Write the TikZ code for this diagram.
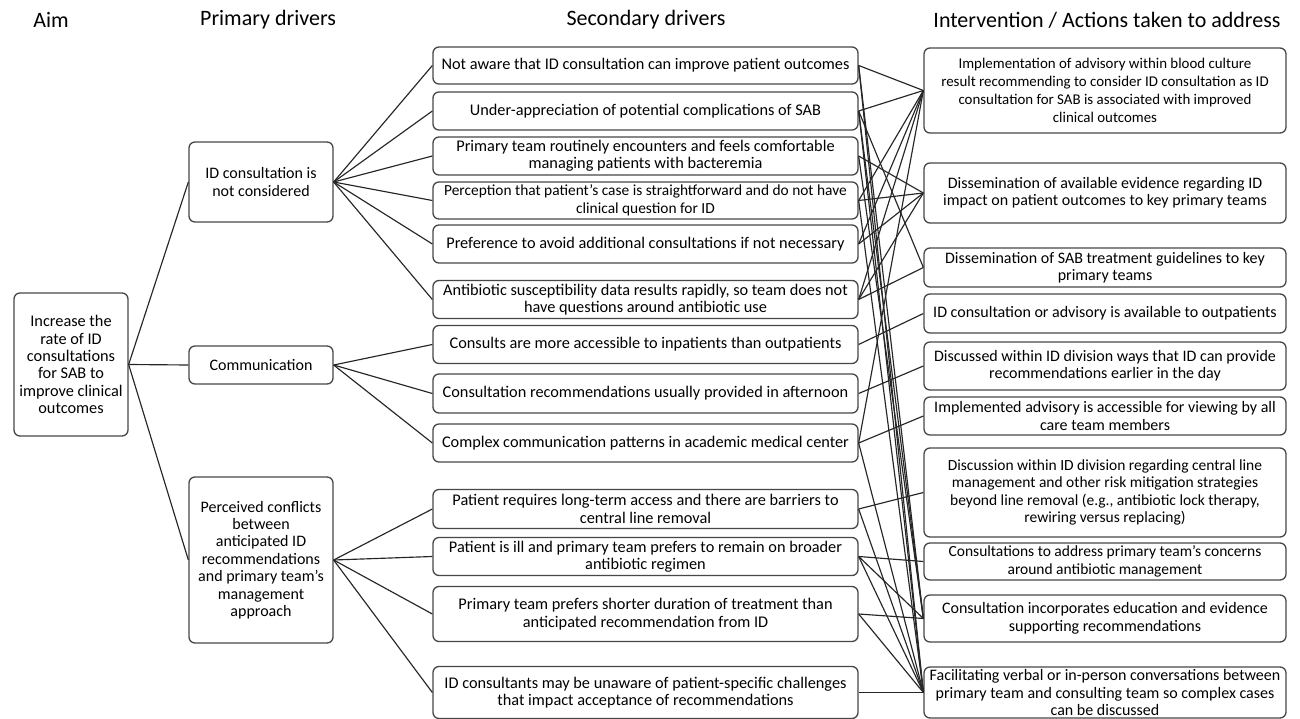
\documentclass[tikz,border=0pt]{standalone}
\usepackage{fontspec}
\setmainfont{Carlito}
\begin{document}
\begin{tikzpicture}[x=1pt,y=-1pt,
  box/.style={draw=black!72, line width=1.3pt, rounded corners=6pt, align=center,
    inner sep=0pt, font=\fontsize{16}{17.4}\selectfont},
  sbox/.style={box, minimum width=425pt, font=\fontsize{16.3}{17.4}\selectfont},
  ibox/.style={box, minimum width=362pt},
  pbox/.style={box, minimum width=144pt},
  link/.style={line width=1.15pt, draw=black!85},
  head/.style={font=\fontsize{22}{24}\selectfont, inner sep=0pt}]
\useasboundingbox (0,0) rectangle (1300,719);
\fill[white] (0,0) rectangle (1300,719);

% headers
\node[head] (hA) at (51,20) {Aim};
\node[head] (hP) at (268,20) {Primary drivers};
\node[head] (hS) at (646,20) {Secondary drivers};
\node[head] (hI) at (1107,20) {Intervention / Actions taken to address};

% aim
\node[box, minimum width=114pt, minimum height=143pt, font=\fontsize{16.3}{17.4}\selectfont] (aim) at (71,364.5)
  {Increase the\\rate of ID\\consultations\\for SAB to\\improve clinical\\outcomes};

% primary drivers
\node[pbox, minimum height=80pt] (p1) at (261,182) {ID consultation is\\not considered};
\node[pbox, minimum height=38pt] (p2) at (261,365) {Communication};
\node[pbox, minimum height=166pt] (p3) at (261,560)
  {Perceived conflicts\\between\\anticipated ID\\recommendations\\and primary team’s\\management\\approach};

% secondary drivers
\node[sbox, minimum height=37pt] (s1) at (645.5,65.5) {Not aware that ID consultation can improve patient outcomes};
\node[sbox, minimum height=38pt] (s2) at (645.5,111) {Under-appreciation of potential complications of SAB};
\node[sbox, minimum height=38pt] (s3) at (645.5,156) {Primary team routinely encounters and feels comfortable\\managing patients with bacteremia};
\node[sbox, minimum height=37pt, font=\fontsize{15.4}{17.4}\selectfont] (s4) at (645.5,200.5) {Perception that patient’s case is straightforward and do not have\\clinical question for ID};
\node[sbox, minimum height=38pt] (s5) at (645.5,244) {Preference to avoid additional consultations if not necessary};
\node[sbox, minimum height=38pt] (s6) at (645.5,299.5) {Antibiotic susceptibility data results rapidly, so team does not\\have questions around antibiotic use};
\node[sbox, minimum height=38pt] (s7) at (645.5,344.5) {Consults are more accessible to inpatients than outpatients};
\node[sbox, minimum height=39pt] (s8) at (645.5,393.5) {Consultation recommendations usually provided in afternoon};
\node[sbox, minimum height=38pt] (s9) at (645.5,443) {Complex communication patterns in academic medical center};
\node[sbox, minimum height=39pt] (s10) at (645.5,509) {Patient requires long-term access and there are barriers to\\central line removal};
\node[sbox, minimum height=38pt] (s11) at (645.5,556.5) {Patient is ill and primary team prefers to remain on broader\\antibiotic regimen};
\node[sbox, minimum height=55pt] (s12) at (645.5,614) {Primary team prefers shorter duration of treatment than\\anticipated recommendation from ID};
\node[sbox, minimum height=52pt] (s13) at (645.5,692.5) {ID consultants may be unaware of patient-specific challenges\\that impact acceptance of recommendations};

% interventions
\node[ibox, minimum height=85pt, font=\fontsize{14.9}{17.8}\selectfont] (i1) at (1105,90.5) {Implementation of advisory within blood culture\\result recommending to consider ID consultation as ID\\consultation for SAB is associated with improved\\clinical outcomes};
\node[ibox, minimum height=60pt] (i2) at (1105,193) {Dissemination of available evidence regarding ID\\impact on patient outcomes to key primary teams};
\node[ibox, minimum height=39pt] (i3) at (1105,267.5) {Dissemination of SAB treatment guidelines to key\\primary teams};
\node[ibox, minimum height=39pt] (i4) at (1105,313.5) {ID consultation or advisory is available to outpatients};
\node[ibox, minimum height=48pt] (i5) at (1105,366) {Discussed within ID division ways that ID can provide\\recommendations earlier in the day};
\node[ibox, minimum height=38pt] (i6) at (1105,416) {Implemented advisory is accessible for viewing by all\\care team members};
\node[ibox, minimum height=89pt, font=\fontsize{15.5}{17.4}\selectfont] (i7) at (1105,492.5) {Discussion within ID division regarding central line\\management and other risk mitigation strategies\\beyond line removal (e.g., antibiotic lock therapy,\\rewiring versus replacing)};
\node[ibox, minimum height=37pt, font=\fontsize{15.5}{17.4}\selectfont] (i8) at (1105,561.5) {Consultations to address primary team’s concerns\\around antibiotic management};
\node[ibox, minimum height=47pt] (i9) at (1105,618.5) {Consultation incorporates education and evidence\\supporting recommendations};
\node[ibox, minimum height=51pt] (i10) at (1105,692.5) {Facilitating verbal or in-person conversations between\\primary team and consulting team so complex cases\\can be discussed};

% aim -> primary
\foreach \p in {p1,p2,p3} \draw[link] (aim.east) -- (\p.west);
% primary -> secondary
\foreach \s in {s1,s2,s3,s4,s5,s6} \draw[link] (p1.east) -- (\s.west);
\foreach \s in {s7,s8,s9} \draw[link] (p2.east) -- (\s.west);
\foreach \s in {s10,s11,s12,s13} \draw[link] (p3.east) -- (\s.west);
% secondary -> interventions
\foreach \a/\b in {s1/i1,s1/i9,s1/i10,
                   s2/i1,s2/i3,s2/i9,s2/i10,
                   s3/i2,s3/i9,
                   s4/i1,s4/i2,s4/i10,
                   s5/i1,s5/i2,
                   s6/i1,s6/i2,s6/i3,
                   s7/i4,s8/i5,
                   s9/i1,s9/i6,s9/i10,
                   s10/i7,s10/i10,
                   s11/i8,s11/i9,s11/i10,
                   s12/i9,s12/i10,
                   s13/i10}
  \draw[link] (\a.east) -- (\b.west);
\end{tikzpicture}
\end{document}
